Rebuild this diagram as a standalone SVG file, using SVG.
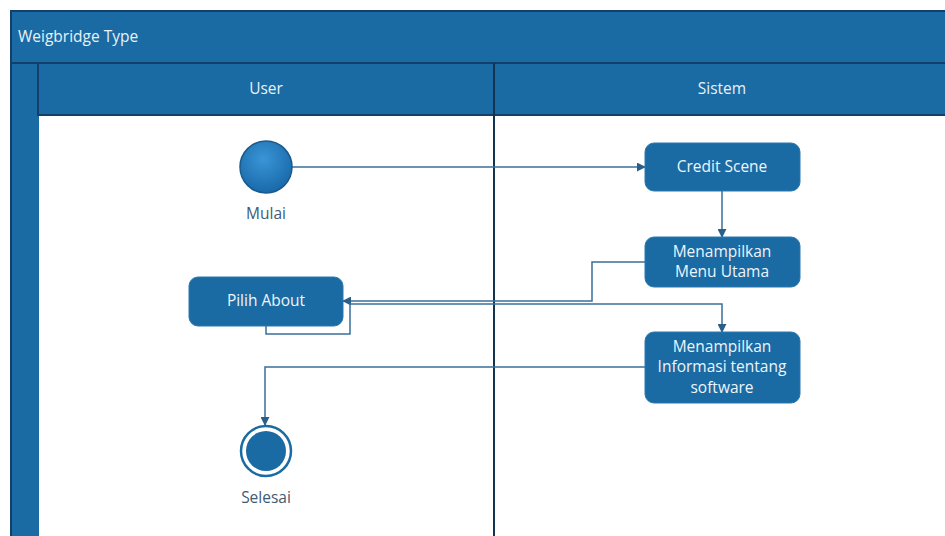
<svg xmlns="http://www.w3.org/2000/svg" width="945" height="536" viewBox="0 0 945 536">
  <style>
    .band { fill: #1a6aa3; stroke: #12406a; stroke-width: 2; }
    .lane { fill: #ffffff; }
    .divider { stroke: #12344f; stroke-width: 2; }
    .head { font-family: "Open Sans", "Liberation Sans", sans-serif; font-size: 15.5px; fill: #e8f1f8; }
    .act { fill: #1a6aa3; stroke: #2a78b0; stroke-width: 1; }
    .act-text { font-family: "Open Sans", "Liberation Sans", sans-serif; font-size: 15.5px; fill: #eef5fb; text-anchor: middle; }
    .lbl { font-family: "Open Sans", "Liberation Sans", sans-serif; font-size: 15.5px; fill: #3f5a72; text-anchor: middle; }
    .conn { fill: none; stroke: #3a6f9a; stroke-width: 1.5; }
  </style>
  <defs>
    <marker id="arrow" viewBox="0 0 10 10" refX="9" refY="5" markerWidth="9" markerHeight="9" markerUnits="userSpaceOnUse" orient="auto">
      <path d="M0,0 L10,5 L0,10 z" fill="#2a5f8a"/>
    </marker>
    <radialGradient id="startFill" cx="0.45" cy="0.35" r="0.7">
      <stop offset="0" stop-color="#3a95d6"/>
      <stop offset="1" stop-color="#1666a6"/>
    </radialGradient>
  </defs>

  <rect width="945" height="536" fill="#ffffff"/>

  <!-- pool frame -->
  <g id="pool">
    <rect class="band" x="11" y="11" width="950" height="540"/>
    <rect class="band" x="11" y="11" width="950" height="52"/>
    <text class="head" x="18" y="42">Weigbridge Type</text>
    <rect class="band" x="38" y="63" width="920" height="52"/>
    <rect class="lane" x="39" y="116" width="920" height="430"/>
    <line class="divider" x1="494" y1="63" x2="494" y2="540"/>
    <text class="head" x="266" y="94" text-anchor="middle">User</text>
    <text class="head" x="722" y="94" text-anchor="middle">Sistem</text>
  </g>

  <!-- connectors -->
  <g id="connectors">
    <path class="conn" d="M292,167 H645" marker-end="url(#arrow)"/>
    <path class="conn" d="M722,191 V237" marker-end="url(#arrow)"/>
    <path class="conn" d="M645,262 H592 V301 H343" marker-end="url(#arrow)"/>
    <path class="conn" d="M266,326 V334 H350 V304 H722 V332" marker-end="url(#arrow)"/>
    <path class="conn" d="M645,367 H265 V425" marker-end="url(#arrow)"/>
  </g>

  <g id="start">
    <circle cx="266" cy="167" r="26" fill="url(#startFill)" stroke="#1a5a8c" stroke-width="1.5"/>
    <text class="lbl" x="266" y="219">Mulai</text>
  </g>

  <g id="credit-scene">
    <rect class="act" x="645" y="143" width="155" height="48" rx="9"/>
    <text class="act-text" x="722" y="172">Credit Scene</text>
  </g>

  <g id="menu-utama">
    <rect class="act" x="645" y="237" width="155" height="50" rx="9"/>
    <text class="act-text" x="722" y="257">Menampilkan</text>
    <text class="act-text" x="722" y="277">Menu Utama</text>
  </g>

  <g id="pilih-about">
    <rect class="act" x="189" y="277" width="154" height="49" rx="9"/>
    <text class="act-text" x="266" y="306">Pilih About</text>
  </g>

  <g id="informasi">
    <rect class="act" x="645" y="332" width="155" height="71" rx="9"/>
    <text class="act-text" x="722" y="352">Menampilkan</text>
    <text class="act-text" x="722" y="372">Informasi tentang</text>
    <text class="act-text" x="722" y="393">software</text>
  </g>

  <g id="end">
    <circle cx="266" cy="451" r="25" fill="#ffffff" stroke="#1a6aa3" stroke-width="2.5"/>
    <circle cx="266" cy="451" r="20" fill="#1a6aa3"/>
    <text class="lbl" x="266" y="503">Selesai</text>
  </g>
</svg>
